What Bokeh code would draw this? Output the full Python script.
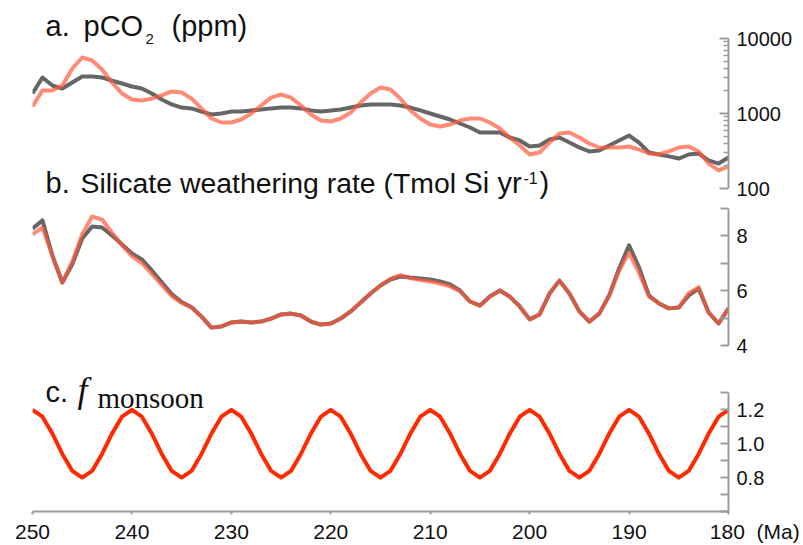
from bokeh.plotting import figure
from bokeh.models import Range1d, FixedTicker, Label, PrintfTickFormatter
from bokeh.layouts import column
from bokeh.embed import file_html
from bokeh.resources import INLINE

# ---------------- data ----------------
age_ma = list(range(250, 179, -1))   # 250 ... 180 Ma, 1 Myr steps

pco2_gray = [1850, 3020, 2360, 2150, 2590, 3110, 3110, 3020, 2750, 2510,
             2290, 2150, 1850, 1540, 1320, 1200, 1170, 1060, 970, 1000,
             1060, 1060, 1100, 1130, 1170, 1200, 1200, 1170, 1100, 1060,
             1100, 1130, 1200, 1280, 1320, 1320, 1320, 1280, 1200, 1100,
             1000, 912, 832, 736, 651, 558, 558, 558, 479, 437,
             363, 374, 450, 479, 410, 352, 312, 321, 374, 437,
             509, 410, 302, 284, 268, 251, 284, 293, 237, 215,
             259]

pco2_salmon = [1240, 2030, 2030, 2360, 3980, 5580, 5090, 3860, 2590, 1850,
               1540, 1490, 1580, 1740, 1970, 1910, 1580, 1170, 858, 759,
               759, 832, 1000, 1280, 1630, 1790, 1630, 1280, 970, 806,
               782, 858, 1030, 1400, 1850, 2220, 2090, 1580, 1100, 858,
               713, 671, 713, 806, 858, 858, 759, 631, 479, 374,
               284, 302, 410, 541, 558, 479, 398, 352, 352, 352,
               363, 331, 293, 284, 312, 352, 363, 312, 215, 174,
               196]

weath_gray = [8.25, 8.55, 7.27, 6.29, 6.95, 7.89, 8.33, 8.29, 8.00, 7.67,
              7.35, 7.13, 6.73, 6.30, 5.87, 5.58, 5.39, 5.05, 4.65, 4.69,
              4.84, 4.87, 4.84, 4.87, 4.98, 5.13, 5.16, 5.09, 4.87, 4.76,
              4.80, 4.98, 5.24, 5.56, 5.89, 6.18, 6.40, 6.51, 6.47, 6.44,
              6.40, 6.33, 6.22, 6.00, 5.60, 5.45, 5.78, 6.00, 5.78, 5.42,
              4.95, 5.13, 5.89, 6.36, 5.89, 5.24, 4.87, 5.16, 5.82, 6.80,
              7.64, 6.84, 5.82, 5.53, 5.35, 5.38, 5.82, 6.07, 5.20, 4.80,
              5.35]

weath_salmon = [8.04, 8.29, 7.27, 6.29, 7.05, 8.05, 8.69, 8.58, 8.10, 7.65,
                7.25, 7.00, 6.60, 6.20, 5.80, 5.55, 5.38, 5.05, 4.65, 4.69,
                4.84, 4.87, 4.84, 4.87, 4.98, 5.13, 5.16, 5.09, 4.87, 4.76,
                4.80, 4.98, 5.24, 5.56, 5.89, 6.18, 6.42, 6.56, 6.45, 6.38,
                6.33, 6.25, 6.15, 5.97, 5.60, 5.45, 5.78, 6.00, 5.78, 5.42,
                4.95, 5.13, 5.89, 6.36, 5.89, 5.24, 4.87, 5.16, 5.82, 6.72,
                7.38, 6.65, 5.78, 5.53, 5.35, 5.38, 5.90, 6.12, 5.20, 4.80,
                5.35]

f_monsoon = [1.20, 1.16, 1.06, 0.94, 0.84, 0.80, 0.84, 0.94, 1.06, 1.16,
             1.20, 1.16, 1.06, 0.94, 0.84, 0.80, 0.84, 0.94, 1.06, 1.16,
             1.20, 1.16, 1.06, 0.94, 0.84, 0.80, 0.84, 0.94, 1.06, 1.16,
             1.20, 1.16, 1.06, 0.94, 0.84, 0.80, 0.84, 0.94, 1.06, 1.16,
             1.20, 1.16, 1.06, 0.94, 0.84, 0.80, 0.84, 0.94, 1.06, 1.16,
             1.20, 1.16, 1.06, 0.94, 0.84, 0.80, 0.84, 0.94, 1.06, 1.16,
             1.20, 1.16, 1.06, 0.94, 0.84, 0.80, 0.84, 0.94, 1.06, 1.16,
             1.20]

x_ticks = [250, 240, 230, 220, 210, 200, 190, 180]
x_unit = "(Ma)"
pco2_ticks = [100, 1000, 10000]
pco2_minor = [200, 300, 400, 500, 600, 700, 800, 900,
              2000, 3000, 4000, 5000, 6000, 7000, 8000, 9000]
weath_ticks = [4, 6, 8]
weath_minor = [5, 7, 9]
fm_ticks = [0.8, 1.0, 1.2]
fm_minor = [0.6, 0.7, 0.9, 1.1, 1.3]

# ---------------- styling helpers ----------------
GRAY = "#666666"
SALMON = "#ff5a3c"
RED = "#ff2a00"
AXIS = "#9c9c9c"
SANS = "Liberation Sans"
SERIF = "Liberation Serif"

W = 803
LEFT, RIGHT = 32, 75
PX_PER_MA = 696 / 70.0


def ma_at(px):          # page x -> Ma
    return 250 - (px - 32) / PX_PER_MA


def ppm_at(py):         # page y -> ppm (panel a)
    return 1000 * 10 ** ((113 - py) / 75.0)


def wr_at(py):          # page y -> Tmol (panel b)
    return 4 + (345 - py) / 27.5


def fm_at(py):          # page y -> f (panel c)
    return 0.8 + (481 - py) / 175.0


xr = Range1d(250, 180)


def make_fig(height, yr, **kw):
    p = figure(width=W, height=height, x_range=xr, y_range=yr,
               y_axis_location="right", toolbar_location=None,
               output_backend="svg", min_border_left=LEFT,
               min_border_right=RIGHT, min_border_top=0, min_border_bottom=0,
               **kw)
    p.outline_line_color = None
    p.background_fill_color = "white"
    p.border_fill_color = "white"
    p.grid.visible = False
    return p


def style_axis(ax):
    ax.axis_line_color = AXIS
    ax.axis_line_width = 2
    ax.major_tick_line_color = AXIS
    ax.major_tick_line_width = 2
    ax.minor_tick_line_color = AXIS
    ax.minor_tick_line_width = 1.5
    ax.major_label_text_font = SANS
    ax.major_label_text_font_size = "20px"
    ax.major_label_text_color = "#111111"


def add_label(p, px, py, to_y, text, font=SANS, size=29, style="normal"):
    # baseline correction: the rendered text sits ~0.27 em below the anchor
    p.add_layout(Label(x=ma_at(px), y=to_y(py - 0.27 * size), text=text,
                       text_font=font, text_font_size=f"{size}px",
                       text_font_style=style, text_color="#111111",
                       text_baseline="alphabetic", text_align="left"))


# ---------------- panel a ----------------
p1 = make_fig(200, Range1d(ppm_at(200), ppm_at(0)), y_axis_type="log",
              x_axis_location=None)
p1.line(age_ma, pco2_gray, line_color=GRAY, line_width=4, line_join="round")
p1.line(age_ma, pco2_salmon, line_color=SALMON, line_alpha=0.7,
        line_width=4, line_join="round")
ya = p1.yaxis[0]
style_axis(ya)
ya.ticker = FixedTicker(ticks=pco2_ticks, minor_ticks=pco2_minor)
ya.major_label_overrides = {t: str(t) for t in pco2_ticks}
ya.bounds = (100, 10000)
ya.major_tick_in = 9
ya.major_tick_out = 0
ya.minor_tick_in = 5
ya.minor_tick_out = 0
ya.major_label_standoff = 8

add_label(p1, 45, 33.5, ppm_at, "a.")
add_label(p1, 83, 33.5, ppm_at, "pCO")
add_label(p1, 145, 43, ppm_at, "2", size=15)
add_label(p1, 171, 33.5, ppm_at, "(ppm)")

add_label(p1, 45, 190, ppm_at, "b.")
add_label(p1, 80, 190, ppm_at, "Silicate weathering rate (Tmol", size=28.4)
add_label(p1, 463, 190, ppm_at, "Si")
add_label(p1, 497, 190, ppm_at, "yr")
add_label(p1, 523, 182, ppm_at, "-1", size=16)
add_label(p1, 539, 190, ppm_at, ")")

# ---------------- panel b ----------------
p2 = make_fig(162, Range1d(wr_at(362), wr_at(200)), x_axis_location=None)
p2.line(age_ma, weath_gray, line_color=GRAY, line_width=4, line_join="round")
p2.line(age_ma, weath_salmon, line_color=SALMON, line_alpha=0.7,
        line_width=4, line_join="round")
yb = p2.yaxis[0]
style_axis(yb)
yb.ticker = FixedTicker(ticks=weath_ticks, minor_ticks=weath_minor)
yb.bounds = (4, 9)
yb.major_tick_in = 8
yb.major_tick_out = 0
yb.minor_tick_in = 8
yb.minor_tick_out = 0
yb.minor_tick_line_width = 2
yb.major_label_standoff = 8

# ---------------- panel c ----------------
p3 = make_fig(183, Range1d(0.6, fm_at(362)))
p3.line(age_ma, f_monsoon, line_color=RED, line_width=4, line_join="round")
yc = p3.yaxis[0]
style_axis(yc)
yc.ticker = FixedTicker(ticks=fm_ticks, minor_ticks=fm_minor)
yc.formatter = PrintfTickFormatter(format="%.1f")
yc.bounds = (0.6, 1.3)
yc.major_tick_in = 8
yc.major_tick_out = 0
yc.minor_tick_in = 8
yc.minor_tick_out = 0
yc.minor_tick_line_width = 2
yc.major_label_standoff = 8

xc = p3.xaxis[0]
style_axis(xc)
xc.ticker = FixedTicker(ticks=x_ticks, minor_ticks=[])
xc.major_tick_in = 0
xc.major_tick_out = 3
xc.minor_tick_in = 0
xc.minor_tick_out = 0
xc.major_label_standoff = 5
xc.major_label_text_font_size = "21px"
NB = "\u00a0"
# the unit sits to the right of the last tick label, on the same line
xc.major_label_overrides = {180: NB * 9 + "180" + NB * 2 + x_unit}

add_label(p3, 45, 400, fm_at, "c.")
add_label(p3, 77, 400, fm_at, "f", font=SERIF, size=36, style="italic")
add_label(p3, 97, 407, fm_at, "monsoon", font=SERIF, size=29)

layout = column(p1, p2, p3)
open("out.html", "w").write(file_html(layout, INLINE))
